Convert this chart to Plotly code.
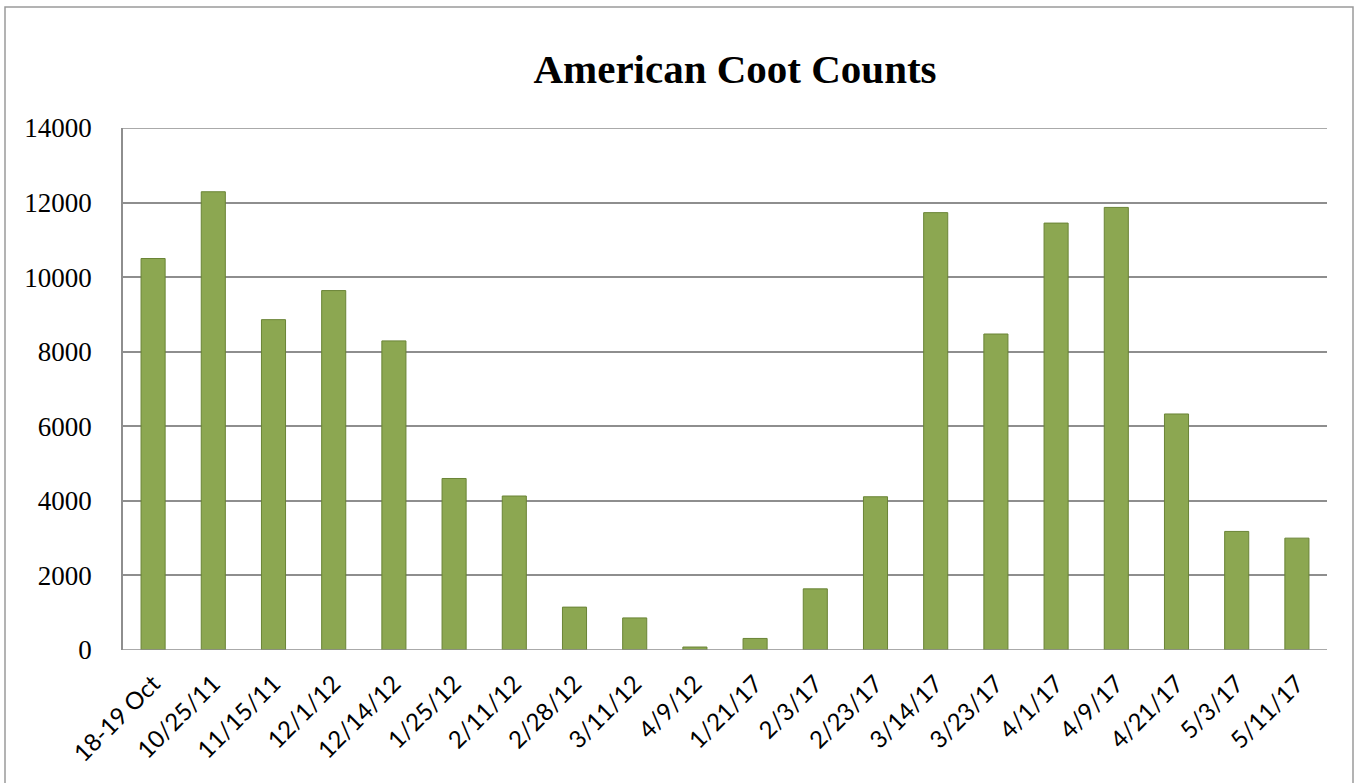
import plotly.graph_objects as go

categories = ["18-19 Oct", "10/25/11", "11/15/11", "12/1/12", "12/14/12", "1/25/12",
              "2/11/12", "2/28/12", "3/11/12", "4/9/12", "1/21/17", "2/3/17",
              "2/23/17", "3/14/17", "3/23/17", "4/1/17", "4/9/17", "4/21/17",
              "5/3/17", "5/11/17"]
counts = [10500, 12290, 8860, 9640, 8290, 4600, 4130, 1150, 860, 80, 310, 1640,
          4110, 11730, 8475, 11450, 11870, 6330, 3180, 3000]
y_ticks = [0, 2000, 4000, 6000, 8000, 10000, 12000, 14000]
y_tick_text = [str(v) for v in y_ticks]

W, H = 1359, 783
L, R, T, B = 123, 32, 128, 133
pw, ph = W - L - R, H - T - B

fig = go.Figure(go.Bar(
    x=categories, y=counts, width=0.4,
    marker=dict(color="#8CA751", line=dict(color="#6A8436", width=1)),
))

def px_x(px):
    return (px - L) / pw

def px_y(py):
    return (H - B - py) / ph

grid = dict(color="#8E8E8E", width=1.5)

fig.update_layout(
    width=W, height=H,
    margin=dict(l=L, r=R, t=T, b=B, autoexpand=False),
    paper_bgcolor="white", plot_bgcolor="white",
    showlegend=False,
    title=dict(text="<b>American Coot Counts</b>", x=(735 - L) / pw, xref="paper",
               y=1 - 69 / H, yref="container", xanchor="center", yanchor="middle",
               font=dict(family="Liberation Serif", size=41, color="black")),
    xaxis=dict(tickangle=-45, showgrid=False, showline=False, ticks="",
               ticklabelstandoff=14,
               tickfont=dict(family="Lato", size=24, color="black")),
    yaxis=dict(range=[0, 14000], tickvals=y_ticks, ticktext=y_tick_text,
               showgrid=True, gridcolor=grid["color"], gridwidth=grid["width"],
               zeroline=False,
               showline=True, linecolor=grid["color"], linewidth=grid["width"],
               ticks="", ticklabelstandoff=24,
               tickfont=dict(family="Liberation Serif", size=27, color="black")),
    shapes=[
        dict(type="line", xref="paper", yref="y", x0=0, x1=1,
             y0=y_ticks[0], y1=y_ticks[0], line=grid, layer="above"),
        dict(type="line", xref="paper", yref="y", x0=0, x1=1,
             y0=y_ticks[-1], y1=y_ticks[-1], line=grid, layer="above"),
        dict(type="rect", xref="paper", yref="paper",
             x0=px_x(5), x1=px_x(1353), y0=px_y(795), y1=px_y(7),
             line=dict(color="#9A9A9A", width=1.5), fillcolor="rgba(0,0,0,0)"),
    ],
)

fig.write_html("out.html", config={"displayModeBar": False},
               post_script="document.body.style.margin='0';")
